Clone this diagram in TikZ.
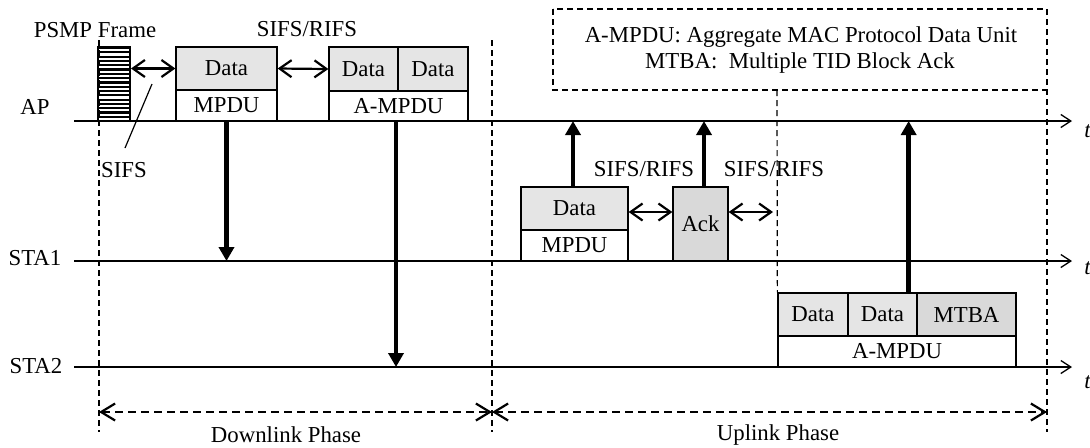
\documentclass[tikz,border=0pt]{standalone}
\usepackage{fontspec}
\setmainfont{Liberation Serif}
\usetikzlibrary{arrows.meta,calc}
\begin{document}
\begin{tikzpicture}[x=0.5pt,y=-0.5pt,
  font=\fontsize{11.4}{13}\selectfont,
  axis/.style={line width=0.65pt,-{Straight Barb[length=5pt,width=6.5pt,line width=0.65pt]}},
  cell/.style={draw,line width=0.65pt,inner sep=0pt},
  light/.style={fill=black!10},
  dark/.style={fill=black!15},
  big/.style={line width=2.3pt,-{Triangle[length=7pt,width=7.5pt]}},
  dbl/.style={line width=1.1pt,{Straight Barb[length=6pt,width=8.5pt,line width=1.1pt]}-{Straight Barb[length=6pt,width=8.5pt,line width=1.1pt]}},
  vdash/.style={line width=0.6pt,dash pattern=on 3pt off 2pt},
  phase/.style={line width=1pt,dash pattern=on 4pt off 2.5pt,{Straight Barb[length=7pt,width=8.5pt,line width=1.1pt]}-{Straight Barb[length=7pt,width=8.5pt,line width=1.1pt]}},
  lbl/.style={inner sep=0pt}
]
\useasboundingbox (0,0) rectangle (1090,447);

% axes coordinates
\coordinate (apL) at (74,121);   \coordinate (apR) at (1072,121);
\coordinate (s1L) at (74,261);   \coordinate (s1R) at (1072,261);
\coordinate (s2L) at (74,367);   \coordinate (s2R) at (1072,367);

% dashed vertical lines
\coordinate (v1t) at (99,40);   \coordinate (v1b) at (99,432);
\coordinate (v2t) at (492,40);  \coordinate (v2b) at (492,432);
\coordinate (v3t) at (777,90);
\coordinate (v4t) at (1047,9);  \coordinate (v4b) at (1047,432);
\draw[vdash] (v1t) -- (v1b);
\draw[vdash] (v2t) -- (v2b);
\draw[vdash] (v4t) -- (v4b);

% legend box
\coordinate (lg1) at (553,9);
\draw[vdash] (lg1) rectangle (1047,90);
\node[lbl] (lgA) at (801,37) {A-MPDU: Aggregate MAC Protocol Data Unit};
\node[lbl] (lgB) at (800,63) {MTBA:\ \ Multiple TID Block Ack};

% PSMP frame
\node[draw,line width=1pt,inner sep=0pt,minimum width=16pt,minimum height=37pt] (psmp) at (114,84) {};
\foreach \i in {0,...,16}{
  \draw[line width=1.1pt] (98,{48+\i*4.3}) -- (130,{48+\i*4.3});
}
\node[lbl] (psmpl) at (95,30) {PSMP Frame};

% AP frames
\node[cell,light,minimum width=50.5pt,minimum height=21.5pt] (d1) at (226.5,68.5) {Data};
\node[cell,minimum width=50.5pt,minimum height=15.5pt] (m1) at (226.5,105.5) {MPDU};
\node[cell,light,minimum width=34.5pt,minimum height=22pt] (d2a) at (363.5,69) {Data};
\node[cell,light,minimum width=35pt,minimum height=22pt] (d2b) at (433,69) {Data};
\node[cell,minimum width=69.5pt,minimum height=15pt] (am1) at (398.5,106) {A-MPDU};

% STA1 frames
\node[cell,light,minimum width=53.5pt,minimum height=21.5pt] (d3) at (574.5,208.5) {Data};
\node[cell,minimum width=53.5pt,minimum height=15.5pt] (m3) at (574.5,245.5) {MPDU};
\node[cell,dark,minimum width=27.5pt,minimum height=37pt] (ack) at (700.5,224) {Ack};

% STA2 frames
\node[cell,light,minimum width=35pt,minimum height=21.5pt] (d4a) at (813,314.5) {Data};
\node[cell,light,minimum width=34.5pt,minimum height=21.5pt] (d4b) at (882.5,314.5) {Data};
\node[cell,dark,minimum width=49.5pt,minimum height=21.5pt] (mtba) at (966.5,314.5) {MTBA};
\node[cell,minimum width=119pt,minimum height=15.5pt] (am4) at (897,351.5) {A-MPDU};

\draw[vdash] (v3t) -- (d4a.north west);

% axes
\draw[axis] (apL) -- (apR);
\draw[axis] (s1L) -- (s1R);
\draw[axis] (s2L) -- (s2R);
\node[lbl,anchor=west,font=\fontsize{11.4}{13}\selectfont\itshape] (t1) at (1084,131) {t};
\node[lbl,anchor=west,font=\fontsize{11.4}{13}\selectfont\itshape] (t2) at (1084,268) {t};
\node[lbl,anchor=west,font=\fontsize{11.4}{13}\selectfont\itshape] (t3) at (1084,382) {t};

% station labels
\node[lbl] (ap) at (35,107) {AP};
\node[lbl] (sta1) at (35,258) {STA1};
\node[lbl] (sta2) at (36,366) {STA2};

% SIFS annotations
\draw[dbl] (psmp.east |- d1.west) -- (d1.west);
\draw[dbl] (d1.east) -- (d2a.west);
\node[lbl] (sr1) at (307,29) {SIFS/RIFS};
\node[lbl] (sifs) at (124,170) {SIFS};
\coordinate (sifsq) at (125,148);
\coordinate (sifsp) at (152,84);
\draw[line width=0.6pt] (sifsq) -- (sifsp);

\coordinate (r3) at (0,212);
\coordinate (e3) at (773,212);
\draw[dbl] (d3.east |- r3) -- (ack.west |- r3);
\draw[dbl] (ack.east |- r3) -- (e3);
\node[lbl] (sr2) at (644,169) {SIFS/RIFS};
\node[lbl] (sr3) at (774,169) {SIFS/RIFS};

% transmissions
\draw[big] (m1.south) -- (m1.south |- s1L);
\draw[big] ([xshift=-1.25pt]am1.south) -- ([xshift=-1.25pt]am1.south |- s2L);
\draw[big] ([xshift=-0.75pt]d3.north) -- ([xshift=-0.75pt]d3.north |- apL);
\draw[big] ([xshift=1.75pt]ack.north) -- ([xshift=1.75pt]ack.north |- apL);
\draw[big] ([xshift=-4.5pt]d4b.north east) -- ([xshift=-4.5pt]d4b.north east |- apL);

% phases
\coordinate (p1) at (99,412);
\coordinate (p2) at (492,412);
\coordinate (p3) at (1047,412);
\draw[phase] (p1) -- (p2);
\draw[phase] (p2) -- (p3);
\node[lbl] (dl) at (286,435) {Downlink Phase};
\node[lbl] (ul) at (778,435) {Uplink Phase};
\end{tikzpicture}
\end{document}
